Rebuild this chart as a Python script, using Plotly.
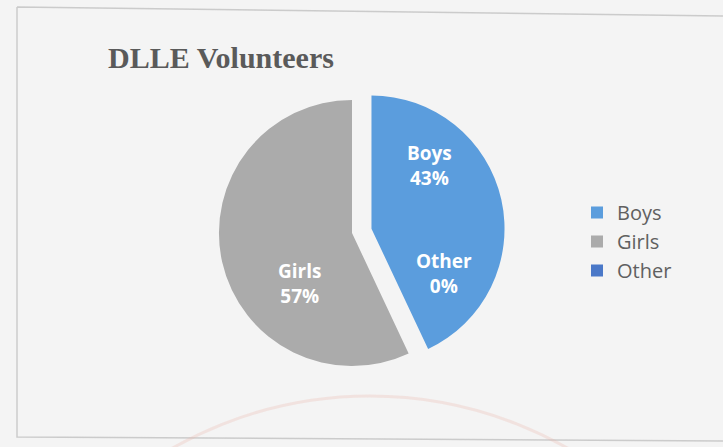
import plotly.graph_objects as go

W, H = 723, 447

labels = ["Boys", "Girls", "Other"]
values = [43, 57, 0]
colors = ["#5b9ddd", "#ababab", "#4a78c8"]
pulls = [0.15, 0, 0]
title_text = "DLLE Volunteers"

# label anchor positions (pixels) for the in-slice data labels
label_pos = {"Boys": (429, 165), "Girls": (299, 283), "Other": (444, 273)}

def px(x):
    return x / W

def py(y):
    return 1 - y / H

total = sum(values)
fig = go.Figure()

cx, cy, box = 352, 233, 306
fig.add_trace(go.Pie(
    labels=labels, values=values, sort=False, direction="clockwise", rotation=0,
    pull=pulls, marker=dict(colors=colors, line=dict(width=0)),
    textinfo="none", hoverinfo="label+percent",
    domain=dict(x=[px(cx - box / 2), px(cx + box / 2)], y=[py(cy + box / 2), py(cy - box / 2)]),
    showlegend=True,
))

for lab, v in zip(labels, values):
    x, y = label_pos[lab]
    fig.add_annotation(
        x=px(x), y=py(y), xref="paper", yref="paper", showarrow=False,
        text=f"<b>{lab}<br>{round(100 * v / total)}%</b>",
        font=dict(family="Open Sans", size=19, color="white"),
        align="center", xanchor="center", yanchor="middle",
    )

fig.add_annotation(
    x=px(106), y=py(58), xref="paper", yref="paper", showarrow=False,
    text=f"<b>{title_text}</b>", xanchor="left", yanchor="middle",
    font=dict(family="Liberation Serif", size=30, color="#5a5a5a"),
)

# chart frame (scanned, slightly tilted)
frame = f"M {px(17)},{py(7)} L {px(723)},{py(16)} M {px(17)},{py(7)} L {px(17)},{py(437)} L {px(723)},{py(441)}"
fig.add_shape(type="path", path=frame, xref="paper", yref="paper",
              line=dict(color="rgba(190,190,190,0.75)", width=1.5))
# faint stamp arc
r = 400
fig.add_shape(type="circle", xref="paper", yref="paper",
              x0=px(370 - r), x1=px(370 + r), y0=py(396), y1=py(396 + 2 * r),
              line=dict(color="rgba(235,185,175,0.3)", width=3))

fig.update_layout(
    width=W, height=H,
    margin=dict(l=0, r=0, t=0, b=0),
    paper_bgcolor="#f4f4f4", plot_bgcolor="#f4f4f4",
    legend=dict(x=px(577), y=py(193), xanchor="left", yanchor="top",
                font=dict(family="Open Sans", size=20, color="#606060"),
                bgcolor="rgba(0,0,0,0)"),
)

fig.write_html("out.html", config={"displayModeBar": False},
               post_script="document.body.style.margin='0';document.body.style.background='#f4f4f4';")
